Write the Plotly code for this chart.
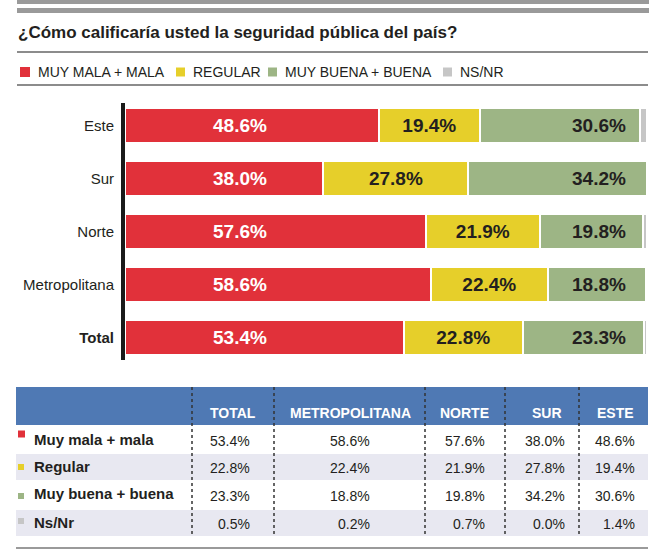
import plotly.graph_objects as go

# ---------------- data ----------------
regions = ["Este", "Sur", "Norte", "Metropolitana", "Total"]
mala = [48.6, 38.0, 57.6, 58.6, 53.4]
regular = [19.4, 27.8, 21.9, 22.4, 22.8]
buena = [30.6, 34.2, 19.8, 18.8, 23.3]
nsnr = [1.4, 0.0, 0.7, 0.2, 0.5]

series_names = ["MUY MALA + MALA", "REGULAR", "MUY BUENA + BUENA", "NS/NR"]
row_labels = ["Muy mala + mala", "Regular", "Muy buena + buena", "Ns/Nr"]
table_cols = ["TOTAL", "METROPOLITANA", "NORTE", "SUR", "ESTE"]
table_col_regions = ["Total", "Metropolitana", "Norte", "Sur", "Este"]
title_text = "¿Cómo calificaría usted la seguridad pública del país?"

# ---------------- style ----------------
colors = ["#e1313a", "#e6cf2a", "#9db585", "#c6c6c6"]
dark = "#231f20"
FONT = "Liberation Sans"
W, H = 662, 554
L, R, T, B = 125, 15, 99, 190
PW, PH = W - L - R, H - T - B


def px(x):
    return (x - L) / PW


def py(y):
    return (H - B - y) / PH


fig = go.Figure()
series_vals = [mala, regular, buena, nsnr]
for i, (name, vals) in enumerate(zip(series_names, series_vals)):
    kw = {}
    if i == 1:
        kw = dict(texttemplate="<b>%{x:.1f}%</b>", textposition="inside",
                  insidetextanchor="middle", textangle=0,
                  textfont=dict(family=FONT, size=19, color=dark))
    else:
        kw = dict(textposition="none")
    fig.add_trace(go.Bar(
        y=regions, x=vals, orientation="h", name=name,
        marker=dict(color=colors[i], line=dict(color="white", width=2)),
        showlegend=False, cliponaxis=False, **kw))

annotations = []
shapes = []

# red labels (white) and green labels (dark, right aligned)
for reg, v in zip(regions, mala):
    annotations.append(dict(x=22.0, y=reg, xref="x", yref="y", text=f"<b>{v:.1f}%</b>",
                            showarrow=False, xanchor="center",
                            font=dict(family=FONT, size=19, color="white")))
for reg, v in zip(regions, buena):
    annotations.append(dict(x=96.3, y=reg, xref="x", yref="y", text=f"<b>{v:.1f}%</b>",
                            showarrow=False, xanchor="right",
                            font=dict(family=FONT, size=19, color=dark)))

# axis bar
shapes.append(dict(type="line", xref="paper", yref="paper", x0=px(123), x1=px(123),
                   y0=py(103), y1=py(360), line=dict(color="#1a1a1a", width=4)))

# top decoration
shapes.append(dict(type="rect", xref="paper", yref="paper", x0=px(17), x1=px(649),
                   y0=py(0), y1=py(4), fillcolor="#9a9a9a", line=dict(width=0)))
shapes.append(dict(type="rect", xref="paper", yref="paper", x0=px(17), x1=px(649),
                   y0=py(8), y1=py(13), fillcolor="#9a9a9a", line=dict(width=0)))
annotations.append(dict(x=px(16), y=py(32), xref="paper", yref="paper", text=f"<b>{title_text}</b>",
                        showarrow=False, xanchor="left", yanchor="middle",
                        font=dict(family=FONT, size=17, color=dark)))
for yl in (52, 85):
    shapes.append(dict(type="line", xref="paper", yref="paper", x0=px(17), x1=px(648),
                       y0=py(yl), y1=py(yl), line=dict(color="#8c8c8c", width=2)))

# legend
leg_x = [20, 176, 268, 443]
leg_sz = [10, 9, 9, 9]
for i, name in enumerate(series_names):
    x0 = leg_x[i]
    s = leg_sz[i]
    shapes.append(dict(type="rect", xref="paper", yref="paper", x0=px(x0), x1=px(x0 + s),
                       y0=py(72 - s / 2), y1=py(72 + s / 2), fillcolor=colors[i], line=dict(width=0)))
    annotations.append(dict(x=px(x0 + s + 6), y=py(72), xref="paper", yref="paper", text=name,
                            showarrow=False, xanchor="left", yanchor="middle",
                            font=dict(family=FONT, size=14, color=dark)))

# table
tx0, tx1 = 16, 648
hy0, hy1 = 387, 425
shapes.append(dict(type="rect", xref="paper", yref="paper", x0=px(tx0), x1=px(tx1),
                   y0=py(hy0), y1=py(hy1), fillcolor="#4f79b4", line=dict(width=0), layer="below"))
for (a, b) in [(454, 480), (510, 536)]:
    shapes.append(dict(type="rect", xref="paper", yref="paper", x0=px(tx0), x1=px(tx1),
                       y0=py(a), y1=py(b), fillcolor="#e8e8f1", line=dict(width=0), layer="below"))
for xs in [192, 274, 425, 505, 579]:
    shapes.append(dict(type="line", xref="paper", yref="paper", x0=px(xs), x1=px(xs),
                       y0=py(387), y1=py(536), line=dict(color="#333333", width=1.5, dash="dot")))
shapes.append(dict(type="line", xref="paper", yref="paper", x0=px(tx0), x1=px(tx1),
                   y0=py(548), y1=py(548), line=dict(color="#9a9a9a", width=2)))

head_cx = [233, 350, 465, 547, 615]
val_rx = [252, 372, 487, 567, 637]
row_cy = [440, 467, 495, 523]
sq_cy = [434, 467, 496, 521]
sq_sz = [7, 6, 6, 6]
for c, hx in zip(table_cols, head_cx):
    annotations.append(dict(x=px(hx), y=py(413), xref="paper", yref="paper", text=f"<b>{c}</b>",
                            showarrow=False, xanchor="center", yanchor="middle",
                            font=dict(family=FONT, size=14, color="white")))
for r, lab in enumerate(row_labels):
    s = sq_sz[r]
    shapes.append(dict(type="rect", xref="paper", yref="paper", x0=px(18), x1=px(18 + s),
                       y0=py(sq_cy[r] - s / 2), y1=py(sq_cy[r] + s / 2),
                       fillcolor=colors[r], line=dict(width=0)))
    annotations.append(dict(x=px(32), y=py(row_cy[r] - 1), xref="paper", yref="paper", text=f"<b>{lab}</b>",
                            showarrow=False, xanchor="left", yanchor="middle",
                            font=dict(family=FONT, size=15, color=dark)))
    for c, reg in enumerate(table_col_regions):
        v = series_vals[r][regions.index(reg)]
        annotations.append(dict(x=px(val_rx[c]), y=py(row_cy[r] + 1), xref="paper", yref="paper",
                                text=f"{v:.1f}%", showarrow=False, xanchor="right", yanchor="middle",
                                font=dict(family=FONT, size=14, color=dark)))

ticktext = [f"<b>{r}</b>" if r == "Total" else r for r in regions]

fig.update_layout(
    width=W, height=H,
    margin=dict(l=L, r=R, t=T, b=B, pad=0),
    paper_bgcolor="white", plot_bgcolor="white",
    barmode="stack", bargap=0.34,
    showlegend=False,
    xaxis=dict(range=[0, 100], visible=False, fixedrange=True),
    yaxis=dict(categoryorder="array", categoryarray=list(reversed(regions)),
               tickvals=regions, ticktext=ticktext,
               showline=False,
               showgrid=False, zeroline=False, ticks="", ticklabelstandoff=10,
               tickfont=dict(family=FONT, size=15, color=dark)),
    annotations=annotations, shapes=shapes,
)

fig.write_html(
    "out.html",
    config={"displayModeBar": False},
    post_script="document.body.style.margin='0';document.body.style.padding='0';"
                "document.body.style.overflow='hidden';",
)
